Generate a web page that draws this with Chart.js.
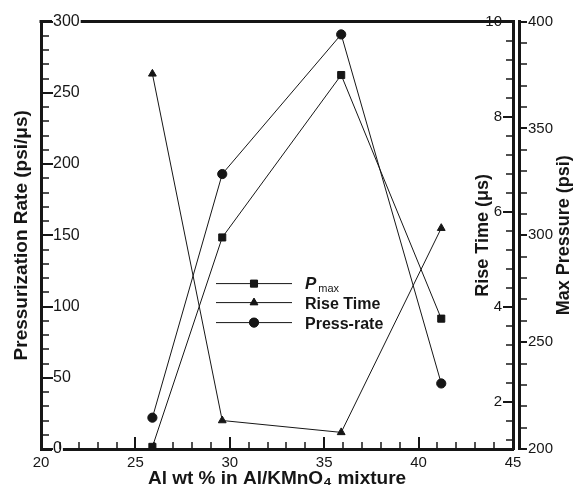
<!DOCTYPE html>
<html><head><meta charset="utf-8">
<script src="https://cdn.jsdelivr.net/npm/chart.js@4/dist/chart.umd.min.js"></script>
<style>html,body{margin:0;padding:0;background:#fff;} canvas{display:block;}</style>
</head><body>
<canvas id="c" width="575" height="490"></canvas>
<script>
// ---- data ----
const alContent = [25.9, 29.6, 35.9, 41.2];          // Al wt % in Al/KMnO4
const maxPressure = [201, 299, 375, 261];             // psi (right outer axis)
const riseTime = [8.9, 1.6, 1.35, 5.65];              // µs (right inner axis)
const pressRate = [22, 193, 291, 46];                 // psi/µs (left axis)
const xTicks = [20, 25, 30, 35, 40, 45];
const rateTicks = [0, 50, 100, 150, 200, 250, 300];
const riseTicks = [2, 4, 6, 8, 10];
const pressureTicks = [200, 250, 300, 350, 400];
const seriesNames = ['P', 'Rise Time', 'Press-rate'];

const FONT = "'Liberation Sans', Arial, Helvetica, sans-serif";
const INK = '#161616';

function pts(ys) { return alContent.map((x, i) => ({ x: x, y: ys[i] })); }
function fixTicks(values) { return s => { s.ticks = values.map(v => ({ value: v })); }; }

const axisDecor = {
  id: 'axisDecor',
  beforeDraw(chart) {
    const { ctx, chartArea: a } = chart;
    ctx.save();
    ctx.strokeStyle = INK; ctx.lineWidth = 3;
    ctx.beginPath(); ctx.moveTo(a.left - 1.5, a.top); ctx.lineTo(a.right + 1.5, a.top); ctx.stroke();
    ctx.restore();
  },
  afterDraw(chart) {
    const { ctx, chartArea: a, scales } = chart;
    ctx.save();
    ctx.strokeStyle = INK; ctx.lineCap = 'butt';
    const seg = (x1, y1, x2, y2, w) => { ctx.lineWidth = w; ctx.beginPath(); ctx.moveTo(x1, y1); ctx.lineTo(x2, y2); ctx.stroke(); };
    // bottom axis: minor every 1, major every 5, pointing up
    const sx = scales.x;
    for (let v = sx.min; v <= sx.max + 1e-9; v += 1) {
      const p = Math.round(sx.getPixelForValue(v));
      const major = xTicks.includes(v);
      seg(p, a.bottom, p, a.bottom - (major ? 12 : 7), major ? 2 : 1.5);
    }
    // left axis: minor every 10, major every 50, pointing right
    const sl = scales.yL;
    for (let v = sl.min; v <= sl.max + 1e-9; v += 10) {
      const p = Math.round(sl.getPixelForValue(v));
      const major = rateTicks.includes(v);
      seg(a.left, p, a.left + (major ? 12 : 8), p, major ? 2 : 1.5);
    }
    // rise time axis: minor every 0.4, major every 2, pointing left
    const sr = scales.yR;
    for (let i = 0; ; i++) {
      const v = +(sr.max - i * 0.4).toFixed(2);
      if (v < sr.min) break;
      const p = Math.round(sr.getPixelForValue(v));
      const major = riseTicks.includes(v);
      seg(sr.left, p, sr.left - (major ? 10 : 7), p, major ? 2 : 1.5);
    }
    // max pressure axis: every 10, pointing right (outside)
    const sp = scales.yP;
    for (let v = sp.min; v <= sp.max + 1e-9; v += 10) {
      const p = Math.round(sp.getPixelForValue(v));
      seg(sp.left, p, sp.left + 8, p, pressureTicks.includes(v) ? 2 : 1.5);
    }

    // right-hand axis titles (read bottom-to-top)
    ctx.fillStyle = INK;
    ctx.font = "bold 18px " + FONT;
    ctx.textAlign = 'center'; ctx.textBaseline = 'middle';
    const cy = (a.top + a.bottom) / 2;
    ctx.save(); ctx.translate(sr.left - 30, cy); ctx.rotate(-Math.PI / 2);
    ctx.fillText('Rise Time (\u03bcs)', 0, 0); ctx.restore();
    ctx.save(); ctx.translate(sp.right - 11, cy); ctx.rotate(-Math.PI / 2);
    ctx.fillText('Max Pressure (psi)', 0, 0); ctx.restore();

    // legend inside the plot
    const lx0 = a.left + 175, lx1 = a.left + 251, tx = a.left + 264;
    const rows = [a.top + 262, a.top + 281, a.top + 301];
    chart.data.datasets.forEach((ds, i) => {
      const y = rows[i];
      seg(lx0, y, lx1, y, 1);
      Chart.helpers.drawPoint(ctx, {
        pointStyle: ds.pointStyle, radius: ds.pointRadius, borderWidth: 1, rotation: 0
      }, (lx0 + lx1) / 2, y);
      ctx.fillStyle = INK; ctx.strokeStyle = INK;
      ctx.fill(); 
      ctx.textAlign = 'left'; ctx.textBaseline = 'alphabetic';
      if (i === 0) {
        ctx.font = "italic bold 17px " + FONT;
        ctx.fillText(seriesNames[0], tx, y + 5);
        const w = ctx.measureText(seriesNames[0]).width;
        ctx.font = "11px " + FONT;
        ctx.fillText('max', tx + w + 2, y + 8);
      } else {
        ctx.font = "bold 16px " + FONT;
        ctx.fillText(seriesNames[i], tx, y + 6);
      }
    });
    ctx.restore();
  }
};

const lineStyle = { borderColor: INK, backgroundColor: INK, borderWidth: 1, pointBorderWidth: 1,
  pointBorderColor: INK, pointBackgroundColor: INK, tension: 0, fill: false };

new Chart(document.getElementById('c'), {
  type: 'line',
  data: {
    datasets: [
      Object.assign({ label: 'Pmax', data: pts(maxPressure), yAxisID: 'yP', pointStyle: 'rect', pointRadius: 5 }, lineStyle),
      Object.assign({ label: 'Rise Time', data: pts(riseTime), yAxisID: 'yR', pointStyle: 'triangle', pointRadius: 4.5 }, lineStyle),
      Object.assign({ label: 'Press-rate', data: pts(pressRate), yAxisID: 'yL', pointStyle: 'circle', pointRadius: 4.6 }, lineStyle)
    ]
  },
  options: {
    responsive: false, animation: false, devicePixelRatio: 1,
    layout: { padding: { top: 19, left: 0, right: 0, bottom: 0 } },
    plugins: { legend: { display: false }, tooltip: { enabled: false } },
    scales: {
      x: {
        type: 'linear', position: 'bottom', min: 20, max: 45,
        afterBuildTicks: fixTicks(xTicks),
        grid: { display: false, drawTicks: false },
        border: { display: true, color: INK, width: 3 },
        ticks: { color: INK, font: { family: FONT, size: 15 }, padding: 5, maxRotation: 0 },
        title: { display: true, text: 'Al wt % in Al/KMnO\u2084 mixture', color: INK,
          font: { family: FONT, size: 19, weight: 'bold' }, padding: { top: 0, bottom: 0 } },
        afterFit: s => { s.height = 41; }
      },
      yL: {
        type: 'linear', position: 'left', min: 0, max: 300,
        afterBuildTicks: fixTicks(rateTicks),
        grid: { display: false, drawTicks: false },
        border: { display: true, color: INK, width: 3 },
        ticks: { color: INK, mirror: true, padding: 12, font: { family: FONT, size: 16 },
          showLabelBackdrop: true, backdropColor: '#fff', backdropPadding: 1 },
        title: { display: true, text: 'Pressurization Rate (psi/\u03bcs)', color: INK,
          font: { family: FONT, size: 19, weight: 'bold' }, padding: { top: 10, bottom: 0 } },
        afterFit: s => { s.width = 41; }
      },
      yR: {
        type: 'linear', position: 'right', min: 1, max: 10,
        afterBuildTicks: fixTicks(riseTicks),
        grid: { display: false, drawTicks: false },
        border: { display: true, color: INK, width: 3 },
        ticks: { color: INK, mirror: true, padding: -11, font: { family: FONT, size: 15 } },
        afterFit: s => { s.width = 6; }
      },
      yP: {
        type: 'linear', position: 'right', min: 200, max: 400,
        afterBuildTicks: fixTicks(pressureTicks),
        grid: { display: false, drawTicks: false },
        border: { display: true, color: INK, width: 3 },
        ticks: { color: INK, padding: 9, font: { family: FONT, size: 15 } },
        afterFit: s => { s.width = 56; }
      }
    }
  },
  plugins: [axisDecor]
});
</script>
</body></html>
